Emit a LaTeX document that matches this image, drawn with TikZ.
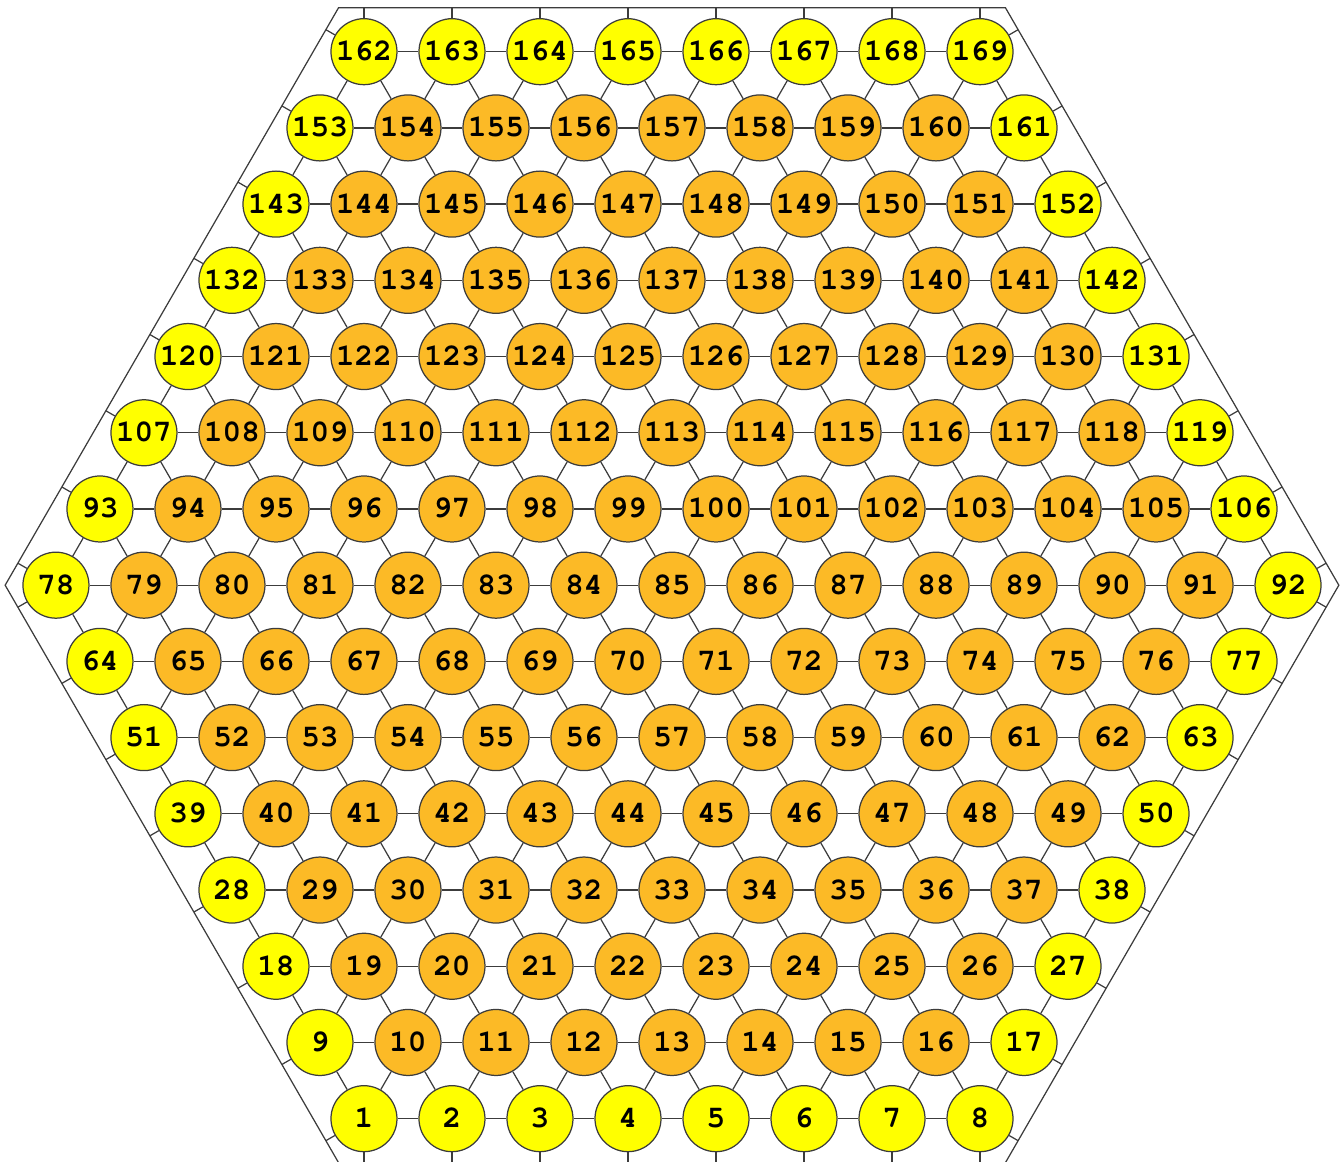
\documentclass[tikz,border=0pt]{standalone}
\usepackage{tikz}
\usetikzlibrary{backgrounds}
\definecolor{rimColor}{HTML}{FFFF00}
\definecolor{coreColor}{HTML}{FCBA26}
\definecolor{lineColor}{HTML}{3C3C3C}
\newcounter{cell}
\newcommand{\cellfont}{\fontencoding{T1}\fontfamily{pcr}\fontseries{b}\fontsize{10}{12}\selectfont}
\newcommand{\cellstub}[2]{\path (#1) ++(#2:0.5) coordinate (#1-#2); \draw[link] (#1) -- (#1-#2);}

\begin{document}
\begin{tikzpicture}[
    cell/.style={circle, draw=lineColor, minimum size=0.75cm, inner sep=0pt,
        text height=5.8pt, text depth=0pt, font=\cellfont},
    link/.style={lineColor, line width=0.4pt}
]
    \useasboundingbox (-4.136,-0.482) rectangle (11.136,12.712);
    \foreach \r in {0,...,14} {
        \pgfmathtruncatemacro{\last}{14-abs(7-\r)}
        \pgfmathsetmacro{\xo}{-(7-abs(7-\r))/2}
        \foreach \i in {0,...,\last} {
            \stepcounter{cell}
            \pgfmathtruncatemacro{\rim}{(\r==0)||(\r==14)||(\i==0)||(\i==\last)}
            \ifnum\rim=1 \def\cellfill{rimColor}\else\def\cellfill{coreColor}\fi
            \node[cell, fill=\cellfill] (n-\r-\i) at ({\xo+\i},{\r*0.866025}) {\thecell};
        }
    }
    \begin{scope}[on background layer]
    \foreach \r in {0,...,14} {
        \pgfmathtruncatemacro{\last}{14-abs(7-\r)}
        \pgfmathtruncatemacro{\s}{\r+1}
        \foreach \i in {0,...,\last} {
            \pgfmathtruncatemacro{\j}{\i+1}
            \pgfmathtruncatemacro{\k}{\i-1}
            \ifnum\i<\last\relax \draw[link] (n-\r-\i) -- (n-\r-\j); \fi
            \ifnum\r<7 \draw[link] (n-\r-\i) -- (n-\s-\i); \draw[link] (n-\r-\i) -- (n-\s-\j); \fi
            \ifnum\r>6 \ifnum\r<14
                \ifnum\i>0 \draw[link] (n-\r-\i) -- (n-\s-\k); \fi
                \ifnum\i<\last\relax \draw[link] (n-\r-\i) -- (n-\s-\i); \fi
            \fi \fi
            \ifnum\r=0 \cellstub{n-\r-\i}{270}\fi
            \ifnum\r=14 \cellstub{n-\r-\i}{90}\fi
            \ifnum\i=0
                \ifnum\r<8 \cellstub{n-\r-\i}{210}\fi
                \ifnum\r>6 \cellstub{n-\r-\i}{150}\fi
            \fi
            \ifnum\i=\last\relax
                \ifnum\r<8 \cellstub{n-\r-\i}{330}\fi
                \ifnum\r>6 \cellstub{n-\r-\i}{30}\fi
            \fi
        }
    }
    \path (n-0-0) ++(240:0.57735) coordinate (h1);
    \path (n-0-7) ++(300:0.57735) coordinate (h2);
    \path (n-7-14) ++(0:0.57735) coordinate (h3);
    \path (n-14-7) ++(60:0.57735) coordinate (h4);
    \path (n-14-0) ++(120:0.57735) coordinate (h5);
    \path (n-7-0) ++(180:0.57735) coordinate (h6);
    \draw[link] (h1) -- (h2) -- (h3) -- (h4) -- (h5) -- (h6) -- cycle;
    \end{scope}
\end{tikzpicture}
\end{document}
